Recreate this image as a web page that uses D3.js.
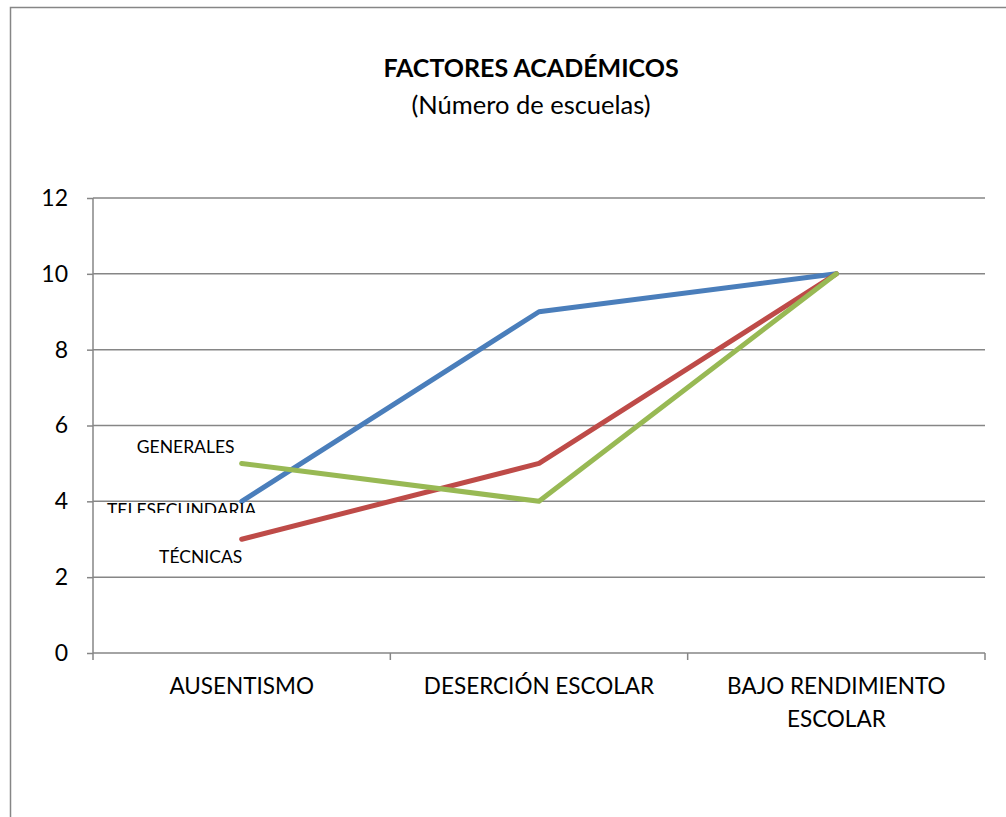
<!DOCTYPE html>
<html>
<head>
<meta charset="utf-8">
<script src="https://cdn.jsdelivr.net/npm/d3@7"></script>
<style>
  body { margin: 0; background: #fff; }
  text { font-family: "Lato", "Open Sans", sans-serif; fill: #000; }
</style>
</head>
<body>
<div id="chart"></div>
<script>
// data
const CATEGORIES = ["AUSENTISMO", "DESERCIÓN ESCOLAR", "BAJO RENDIMIENTO ESCOLAR"];
const SERIES_NAMES = ["TELESECUNDARIA", "TÉCNICAS", "GENERALES"];
const TELESECUNDARIA = [4, 9, 10];
const TECNICAS = [3, 5, 10];
const GENERALES = [5, 4, 10];
const COLORS = ["#4A7EBB", "#BE4B48", "#98B954"];
const Y_TICKS = [0, 2, 4, 6, 8, 10, 12];

var width = 1006, height = 817;
var margin = {left: 93, right: 21, top: 198, bottom: 164};

var svg = d3.select("#chart").append("svg")
  .attr("width", width).attr("height", height);

// outer frame
svg.append("rect")
  .attr("x", 10.5).attr("y", 7.5)
  .attr("width", 1010).attr("height", 830)
  .attr("fill", "none").attr("stroke", "#868686").attr("stroke-width", 1.5);

var x = d3.scaleBand().domain(CATEGORIES)
  .range([margin.left, width - margin.right]);
var y = d3.scaleLinear().domain([0, 12])
  .range([height - margin.bottom, margin.top]);

// grid
svg.append("g").selectAll("line").data(Y_TICKS.slice(1)).join("line")
  .attr("x1", margin.left).attr("x2", width - margin.right)
  .attr("y1", d => y(d)).attr("y2", d => y(d))
  .attr("stroke", "#868686").attr("stroke-width", 1.5);

// y axis
var yAxis = d3.axisLeft(y).tickValues(Y_TICKS).tickSize(6).tickPadding(19);
var gy = svg.append("g").attr("transform", "translate(" + margin.left + ",0)").call(yAxis);
gy.selectAll("line, path").attr("stroke", "#868686").attr("stroke-width", 1.5);
gy.select(".domain").attr("d", "M0," + y(12) + "V" + y(0));
gy.selectAll("text").style("font-size", "23px").style("font-family", "Lato, sans-serif").attr("fill", "#000");

// x axis
var xAxis = d3.axisBottom(x).tickSize(0).tickPadding(25);
var gx = svg.append("g").attr("transform", "translate(0," + y(0) + ")").call(xAxis);
gx.select(".domain").attr("stroke", "#868686").attr("stroke-width", 1.5)
  .attr("d", "M" + margin.left + ",0H" + (width - margin.right));
gx.selectAll(".tk").data(d3.range(CATEGORIES.length + 1)).join("line")
  .attr("class", "tk")
  .attr("x1", i => margin.left + i * x.bandwidth())
  .attr("x2", i => margin.left + i * x.bandwidth())
  .attr("y1", 0).attr("y2", 7)
  .attr("stroke", "#868686").attr("stroke-width", 1.5);
gx.selectAll(".tick text").style("font-size", "22.5px").style("font-family", "Lato, sans-serif")
  .attr("fill", "#000")
  .each(function(d) {
    var t = d3.select(this);
    if (d === "BAJO RENDIMIENTO ESCOLAR") {
      t.text(null);
      t.append("tspan").attr("x", 0).attr("dy", "0.71em").text("BAJO RENDIMIENTO");
      t.append("tspan").attr("x", 0).attr("dy", "1.45em").text("ESCOLAR");
      t.attr("dy", null);
    }
  });

// lines
var seriesData = [TELESECUNDARIA, TECNICAS, GENERALES];
var line = d3.line()
  .x((d, i) => x(CATEGORIES[i]) + x.bandwidth() / 2)
  .y(d => y(d));

svg.append("g").selectAll("path").data(seriesData).join("path")
  .attr("d", line)
  .attr("fill", "none")
  .attr("stroke", (d, i) => COLORS[i])
  .attr("stroke-width", 5)
  .attr("stroke-linecap", "round")
  .attr("stroke-linejoin", "round");

// series labels
svg.append("clipPath").attr("id", "clipTele")
  .append("rect").attr("x", 0).attr("y", 0).attr("width", width).attr("height", 513);

var labelPos = [
  {dx: -60, dy: 15, clip: true},
  {dx: -41, dy: 24},
  {dx: -56, dy: -10}
];
svg.append("g").selectAll("text").data(SERIES_NAMES).join("text")
  .attr("x", (d, i) => x(CATEGORIES[0]) + x.bandwidth() / 2 + labelPos[i].dx)
  .attr("y", (d, i) => y(seriesData[i][0]) + labelPos[i].dy)
  .attr("text-anchor", "middle")
  .attr("clip-path", (d, i) => labelPos[i].clip ? "url(#clipTele)" : null)
  .style("font-size", "17.5px")
  .text(d => d);

// title
svg.append("text").attr("x", 531).attr("y", 77).attr("text-anchor", "middle")
  .style("font-size", "25px").style("font-weight", "bold")
  .text("FACTORES ACADÉMICOS");
svg.append("text").attr("x", 531).attr("y", 114).attr("text-anchor", "middle")
  .style("font-size", "25.5px")
  .text("(Número de escuelas)");
</script>
</body>
</html>
